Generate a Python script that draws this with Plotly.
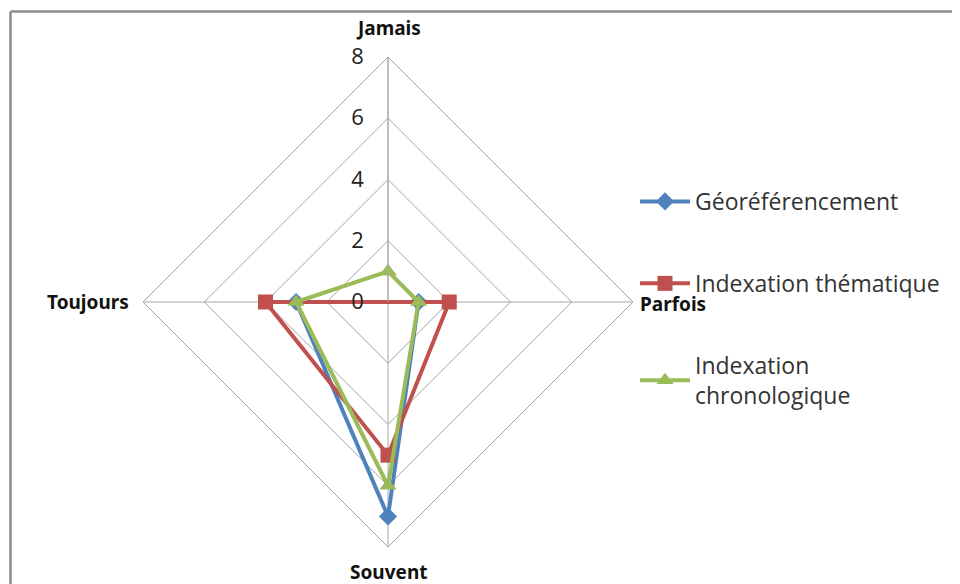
import plotly.graph_objects as go

# page has an 8px body margin, so the figure is 952x576 and page coords are shifted by 8
W, H = 952, 576
OFF = 8

CATEGORIES = ["Jamais", "Parfois", "Souvent", "Toujours"]
SERIES = ["Géoréférencement", "Indexation thématique", "Indexation<br>chronologique"]
GEO = [0, 1, 7, 3]
THEM = [0, 2, 5, 4]
CHRONO = [1, 1, 6, 3]
RADIAL_TICKS = [0, 2, 4, 6, 8]

COLORS = ["#4F81BD", "#C0504D", "#9BBB59"]
SYMBOLS = ["diamond", "square", "triangle-up"]
SIZES = [14, 15, 15]


def px_x(x):
    return (x - OFF) / W


def px_y(y):
    return 1 - (y - OFF) / H


fig = go.Figure()
for i, (name, vals) in enumerate(zip(SERIES, [GEO, THEM, CHRONO])):
    fig.add_trace(go.Scatterpolar(
        r=vals + [vals[0]],
        theta=CATEGORIES + [CATEGORIES[0]],
        mode="lines+markers",
        name=name,
        legendgroup=str(i),
        line=dict(color=COLORS[i], width=4),
        marker=dict(symbol=SYMBOLS[i], size=SIZES[i], color=COLORS[i]),
    ))

# category labels placed like the original (further out than plotly's default)
label_pos = {"Jamais": (388, 28), "Parfois": (673, 304), "Souvent": (388, 572), "Toujours": (88, 302)}
annotations = [
    dict(text=c, x=px_x(label_pos[c][0]), y=px_y(label_pos[c][1]), xref="paper", yref="paper",
         showarrow=False, xanchor="center", yanchor="middle",
         font=dict(size=19, color="#111", family="Noto Sans, sans-serif", weight="bold"))
    for c in CATEGORIES
]

cx, cy, rad = 388, 302, 245
fig.update_layout(
    width=W, height=H,
    paper_bgcolor="white",
    margin=dict(l=0, r=0, t=0, b=0),
    font=dict(family="Open Sans, Liberation Sans, sans-serif", color="#222"),
    polar=dict(
        domain=dict(x=[px_x(cx - rad), px_x(cx + rad)],
                    y=[px_y(cy + rad), px_y(cy - rad)]),
        bgcolor="white",
        gridshape="linear",
        radialaxis=dict(
            range=[0, 8], tickvals=RADIAL_TICKS, angle=90, tickangle=90,
            side="counterclockwise",
            showline=True, linecolor="#a6a6a6", linewidth=1,
            gridcolor="#a6a6a6", gridwidth=1,
            ticks="outside", ticklen=16, tickcolor="rgba(0,0,0,0)",
            tickfont=dict(size=22, color="#222"),
        ),
        angularaxis=dict(
            direction="clockwise", rotation=90,
            showline=True, linecolor="#a6a6a6", linewidth=1,
            gridcolor="#a6a6a6", gridwidth=1,
            ticks="", showticklabels=False,
        ),
    ),
    annotations=annotations,
    legend=dict(
        x=px_x(635), y=px_y(180), xanchor="left", yanchor="top",
        font=dict(size=23, color="#333"),
        tracegroupgap=49, itemwidth=50,
        bgcolor="rgba(0,0,0,0)",
    ),
    showlegend=True,
    shapes=[
        dict(type="line", xref="paper", yref="paper", x0=px_x(10.5), x1=1, y0=px_y(11.5), y1=px_y(11.5),
             line=dict(color="#8c8c8c", width=2.5)),
        dict(type="line", xref="paper", yref="paper", x0=px_x(10.5), x1=px_x(10.5), y0=0, y1=px_y(11.5),
             line=dict(color="#8c8c8c", width=2.5)),
    ],
)

fig.write_html("out.html")
